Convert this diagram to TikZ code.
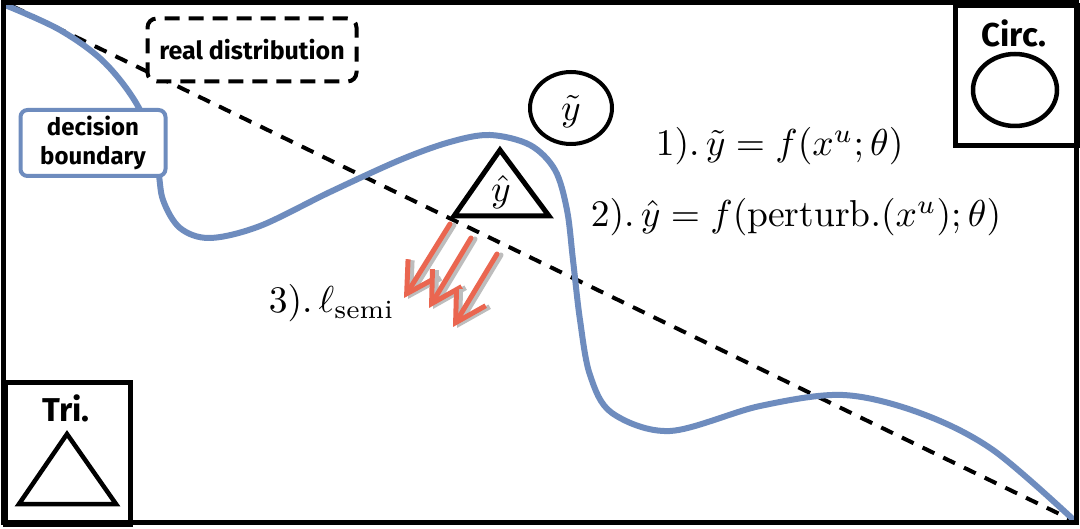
\documentclass[tikz,border=0pt]{standalone}
\usepackage{fontspec}
\newfontfamily\hand{Fira Sans}
\usetikzlibrary{arrows.meta,shapes.geometric}
\definecolor{curveblue}{HTML}{6E8CBE}
\definecolor{arrowred}{HTML}{EA6650}
\definecolor{shadowgray}{HTML}{BDBDBD}
\tikzset{
  frameline/.style={line width=5pt, line join=miter},
  blueline/.style={line width=6pt, color=curveblue, line cap=round},
  realdash/.style={line width=4pt, dash pattern=on 13pt off 10pt},
  dbbox/.style={draw=curveblue, line width=4pt, fill=white, rounded corners=7pt,
    minimum width=145pt, minimum height=66pt, align=center, inner sep=0pt,
    font=\hand\bfseries\fontsize{24}{29}\selectfont},
  rdbox/.style={draw=black, line width=4pt, fill=white, rounded corners=9pt,
    dash pattern=on 15pt off 9pt, minimum width=209pt, minimum height=63pt,
    inner sep=0pt, font=\hand\bfseries\fontsize{25}{30}\selectfont},
  cornerbox/.style={draw=black, line width=5pt, anchor=north west, inner sep=0pt},
  cornerlabel/.style={font=\hand\bfseries\fontsize{33}{40}\selectfont, inner sep=0pt},
  shapeline/.style={draw=black, line width=4.5pt, line join=miter},
  mathlabel/.style={scale=3.75, inner sep=0pt, anchor=base west},
  redarrow/.style={draw=arrowred, line width=5pt, line cap=round,
    -{Straight Barb[length=30pt,width=34pt,line width=5pt]}},
  arrowshadow/.style={draw=shadowgray, line width=5pt, line cap=round,
    -{Straight Barb[length=30pt,width=34pt,line width=5pt]}},
}
\begin{document}
\begin{tikzpicture}[x=1pt,y=-1pt]
\useasboundingbox (0,0) rectangle (1080,529);
\fill[white] (0,0) rectangle (1080,529);

% real distribution (dashed line)
\coordinate (rdA) at (12,6);
\coordinate (rdB) at (1074,521);
\draw[realdash] (rdA) -- (rdB);

% decision boundary (blue curve)
\draw[blueline] plot[smooth, tension=0.55] coordinates {
  (5,5) (60,30) (105,63) (140,110) (157,165) (163,200) (180,228) (210,238)
  (260,226) (330,192) (400,160) (450,142) (490,135) (530,145) (555,170)
  (567,210) (573,260) (580,320) (590,375) (612,413) (670,431) (760,406)
  (843,395) (920,413) (993,450) (1076,522)};

% labels boxes
\node[dbbox] (db) at (93,143) {decision\\boundary};
\node[rdbox] (rd) at (252,50) {real distribution};

% tilde y circle
\node[draw, ellipse, line width=4pt, minimum width=82pt, minimum height=72pt,
      inner sep=0pt] (ytilde) at (571,108) {};
\node[scale=3.75, inner sep=0pt] (ytildetext) at (571,112) {$\tilde{y}$};

% hat y triangle
\coordinate (tA) at (500,150);
\coordinate (tB) at (454,216);
\coordinate (tC) at (549,216);
\draw[shapeline, line width=5pt] (tA) -- (tB) -- (tC) -- cycle;
\node[scale=3.75, inner sep=0pt] (yhat) at (501,192) {$\hat{y}$};

% red arrows (with shadows)
\coordinate (a1s) at (450,224); \coordinate (a1e) at (404,298);
\coordinate (a2s) at (471,238); \coordinate (a2e) at (429,308);
\coordinate (a3s) at (497,254); \coordinate (a3e) at (453,327);
\foreach \s/\e in {a1s/a1e, a2s/a2e, a3s/a3e}{
  \draw[arrowshadow] ([shift={(4,1)}]\s) -- ([shift={(4,1)}]\e);
  \draw[redarrow] (\s) -- (\e);
}

% equations
\node[mathlabel] (eq1) at (655,156) {$1).\,\tilde{y} = f(x^u;\theta)$};
\node[mathlabel] (eq2) at (590,227) {$2).\,\hat{y} = f(\mathrm{perturb.}(x^u);\theta)$};
\node[mathlabel] (eq3) at (268,313) {$3).\,\ell_{\mathrm{semi}}$};

% Circ. corner box
\node[cornerbox, minimum width=123pt, minimum height=140pt] (circbox) at (953,3) {};
\node[cornerlabel] (circlabel) at (1014,33) {Circ.};
\node[draw, ellipse, line width=4.5pt, minimum width=84pt, minimum height=72pt,
      inner sep=0pt] (circshape) at (1015,90) {};

% Tri. corner box
\node[cornerbox, minimum width=125pt, minimum height=142pt] (tribox) at (3,380) {};
\node[cornerlabel] (trilabel) at (66,408) {Tri.};
\coordinate (sA) at (67,434);
\coordinate (sB) at (19,504);
\coordinate (sC) at (116,504);
\draw[shapeline] (sA) -- (sB) -- (sC) -- cycle;

% outer frame
\draw[frameline] (3,3) rectangle (1076,522);
\end{tikzpicture}
\end{document}
